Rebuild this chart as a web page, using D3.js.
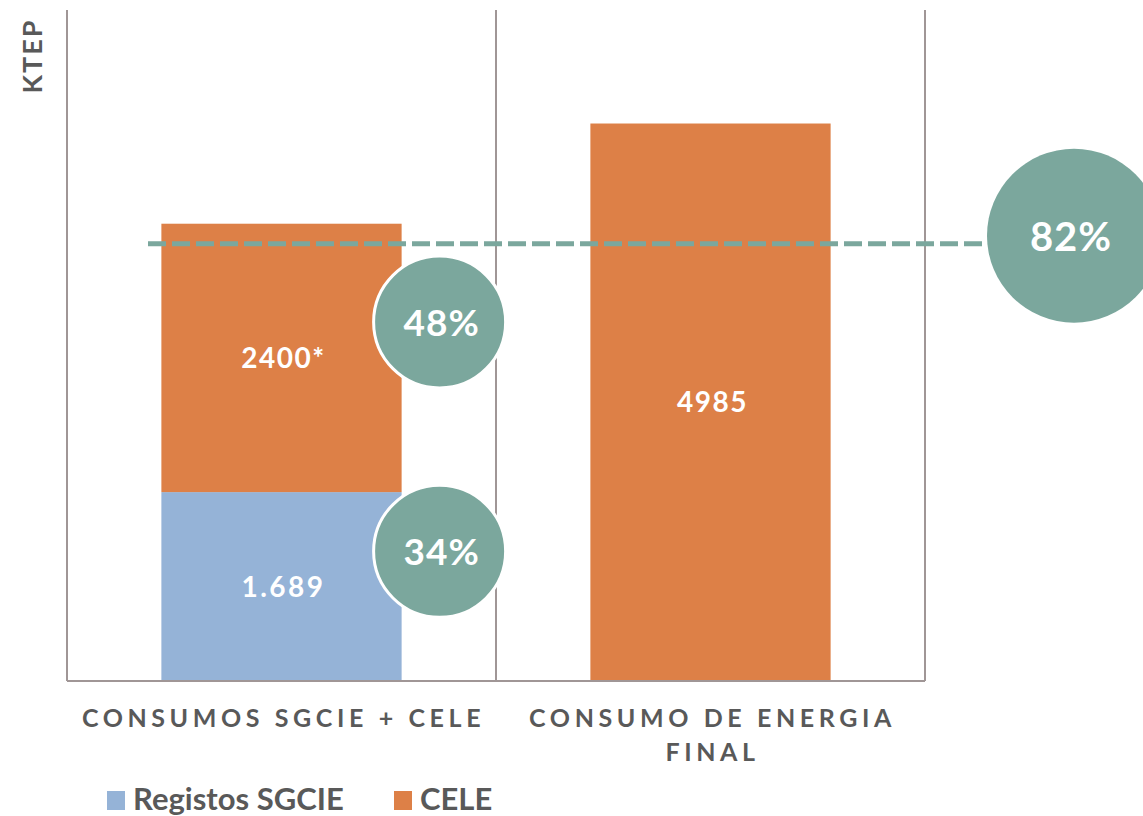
<!DOCTYPE html>
<html><head><meta charset="utf-8">
<script src="https://cdn.jsdelivr.net/npm/d3@7"></script>
<style>
html,body{margin:0;padding:0;background:#fff;}
svg{display:block;font-family:Lato,"Open Sans",sans-serif;}
</style></head>
<body><svg id="c" width="1143" height="816"></svg>
<script>
const categories = ["CONSUMOS SGCIE + CELE", "CONSUMO DE ENERGIA FINAL"];
const seriesNames = ["Registos SGCIE", "CELE"];
const sgcieValues = [1689, 0];
const celeValues = [2400, 4985];
const valueLabels = [["1.689", ""], ["2400*", "4985"]];
const yMax = 6000;
const refLineValue = 3910;
const shareLabels = ["34%", "48%"];
const shareAnchorValues = [1160, 3210];
const totalShareLabel = "82%";

const colors = {sgcie:"#95B3D7", cele:"#DD8047", teal:"#7BA79D", axis:"#A09696", text:"#595959"};
const svg = d3.select("#c");
const m = {l:67, r:925, t:10, b:681};

const x = d3.scaleBand().domain(categories).range([m.l, m.r]).paddingInner(0.44).paddingOuter(0.22);
const y = d3.scaleLinear().domain([0, yMax]).range([m.b, m.t]);

const stackData = categories.map((c,i)=>({cat:c, sgcie:sgcieValues[i], cele:celeValues[i]}));
const stack = d3.stack().keys(["sgcie","cele"])(stackData);

// bars
stack.forEach((layer, li) => {
  svg.append("g").selectAll("rect").data(layer).join("rect")
    .attr("x", d => x(d.data.cat))
    .attr("width", x.bandwidth())
    .attr("y", d => y(d[1]))
    .attr("height", d => y(d[0]) - y(d[1]))
    .attr("fill", colors[layer.key]);
  svg.append("g").selectAll("text").data(layer).join("text")
    .filter(d => d[1] > d[0])
    .attr("x", d => x(d.data.cat) + x.bandwidth()/2 + 2)
    .attr("y", d => (y(d[0]) + y(d[1]))/2 + 10)
    .attr("text-anchor","middle")
    .attr("fill","#fff")
    .attr("font-weight","bold")
    .attr("font-size", 28)
    .attr("letter-spacing", li===0 ? 2.5 : 1.5)
    .text((d,i) => valueLabels[li][i]);
});

// axes / frame lines
const stepEdges = [m.l, m.l + x.step(), m.r];
svg.append("g").selectAll("line").data(stepEdges).join("line")
  .attr("x1", d=>d).attr("x2", d=>d).attr("y1", m.t).attr("y2", m.b)
  .attr("stroke", colors.axis).attr("stroke-width", 2);
svg.append("line").attr("x1", m.l).attr("x2", m.r).attr("y1", m.b).attr("y2", m.b)
  .attr("stroke", colors.axis).attr("stroke-width", 2);

// y label
svg.append("text").attr("transform", `translate(42,${56}) rotate(-90)`)
  .attr("text-anchor","middle").attr("fill", colors.text)
  .attr("font-weight","bold").attr("font-size", 27).attr("letter-spacing", 2).text("KTEP");

// category labels
const catLines = [["CONSUMOS SGCIE + CELE"], ["CONSUMO DE ENERGIA", "FINAL"]];
categories.forEach((c,i) => {
  const t = svg.append("text").attr("text-anchor","middle").attr("fill", colors.text)
    .attr("font-weight","bold").attr("font-size", 25).attr("letter-spacing", 4.6);
  catLines[i].forEach((ln,j) => {
    t.append("tspan").attr("x", x(c) + x.bandwidth()/2 + 2).attr("y", 727 + j*34).text(ln);
  });
});

// dashed reference line
const refCx = 1074, refR = 87;
svg.append("line").attr("x1", 148).attr("x2", refCx).attr("y1", y(refLineValue)).attr("y2", y(refLineValue))
  .attr("stroke", colors.teal).attr("stroke-width", 5).attr("stroke-dasharray","18,6");

// share circles
const c0 = categories[0];
shareLabels.forEach((lab,i) => {
  const cx = x(c0) + x.bandwidth() + 38, cy = y(shareAnchorValues[i]);
  svg.append("circle").attr("cx", cx).attr("cy", cy).attr("r", 66)
    .attr("fill", colors.teal).attr("stroke","#fff").attr("stroke-width", 3);
  svg.append("text").attr("x", cx + 2).attr("y", cy + 14).attr("text-anchor","middle")
    .attr("fill","#fff").attr("font-weight","bold").attr("font-size", 37).attr("letter-spacing", 1).text(lab);
});
svg.append("circle").attr("cx", refCx).attr("cy", y(refLineValue) - 8).attr("r", refR).attr("fill", colors.teal);
svg.append("text").attr("x", refCx - 3).attr("y", y(refLineValue) + 7).attr("text-anchor","middle")
  .attr("fill","#fff").attr("font-weight","bold").attr("font-size", 40).attr("letter-spacing", 1).text(totalShareLabel);

// legend
const legend = [{name:seriesNames[0], color:colors.sgcie, x:107}, {name:seriesNames[1], color:colors.cele, x:394}];
legend.forEach(l => {
  svg.append("rect").attr("x", l.x).attr("y", 791).attr("width", 18).attr("height", 19).attr("fill", l.color);
  svg.append("text").attr("x", l.x + 26).attr("y", 810).attr("fill", colors.text)
    .attr("font-weight","bold").attr("font-size", 31).text(l.name);
});
</script></body></html>
